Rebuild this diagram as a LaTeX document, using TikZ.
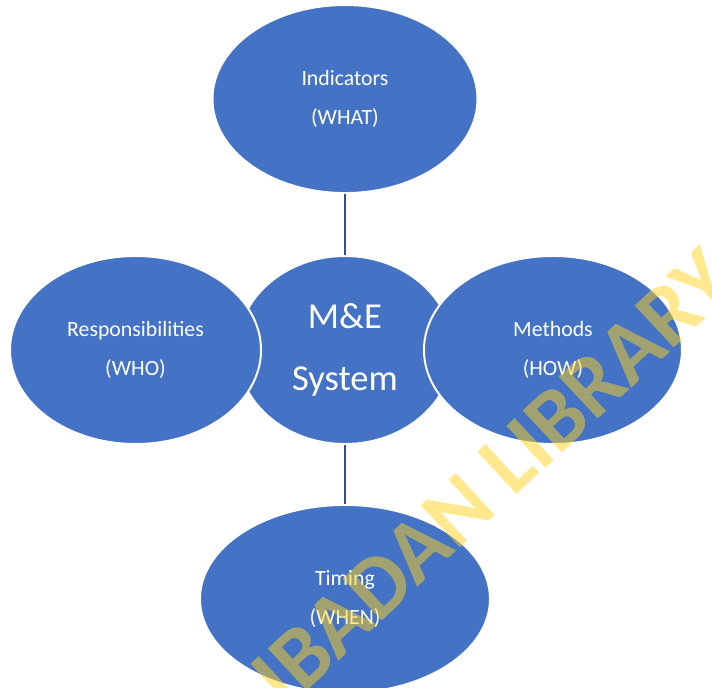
\documentclass[tikz,border=0pt]{standalone}
\usepackage{fontspec}
\setmainfont{Carlito}
\usepackage{xcolor}
\definecolor{officeblue}{RGB}{68, 114, 196}
\definecolor{linkblue}{RGB}{47, 82, 143}
\definecolor{stamp}{RGB}{255, 210, 30}
\usepackage{tikz}
\usetikzlibrary{positioning, shapes.geometric}
\tikzset{
  part/.style = {
    ellipse,
    draw=white,
    line width=1.4pt,
    fill=officeblue,
    text=white,
    align=center,
    minimum width=6.4cm,
    minimum height=4.7cm,
    inner sep=0pt,
    font=\fontsize{15.5}{27.5}\selectfont
  },
  core/.style = {
    part,
    minimum width=5.4cm,
    font=\fontsize{26}{44.5}\selectfont
  },
  link/.style = {
    draw=linkblue,
    line width=1.4pt
  },
  stamp/.style = {
    text=stamp,
    text opacity=0.5,
    rotate=43,
    inner sep=0pt,
    font=\fontsize{63}{63}\selectfont\bfseries
  },
}

\begin{document}
\begin{tikzpicture}
    \clip (-8.625,-8.45) rectangle (9.175,8.75);
    \node[core]                                          (sys) {M\&E\\System};
    \node[part, above=1.525cm of sys, minimum width=6.625cm] (ind) {Indicators\\(WHAT)};
    \node[part, left=-0.65cm of sys, minimum width=6.275cm]  (who) {Responsibilities\\(WHO)};
    \node[part, right=-0.775cm of sys, minimum width=6.45cm] (how) {Methods\\(HOW)};
    \node[part, below=1.475cm of sys, minimum width=7.25cm]  (tim) {Timing\\(WHEN)};
    \draw[link] (ind) -- (sys);
    \draw[link] (sys) -- (tim);
    \node[stamp] (lib) at (3.7,-3.2) {IBADAN LIBRARY};
  \end{tikzpicture}
\end{document}
